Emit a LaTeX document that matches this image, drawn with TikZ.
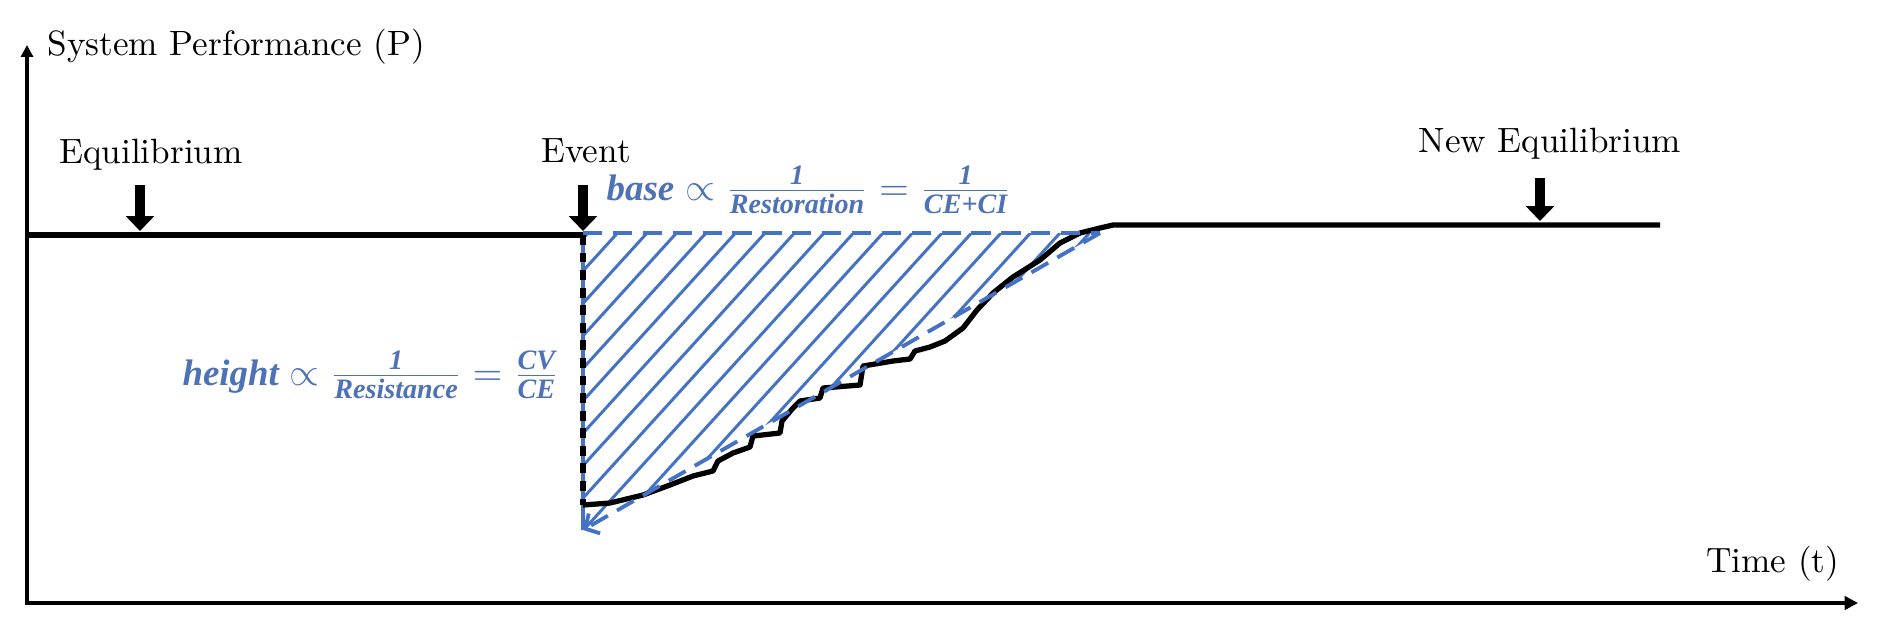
\documentclass[tikz,border=0pt]{standalone}
\usepackage{amsmath,amssymb}
\usepackage{fontspec}
\newfontfamily\formfont{Liberation Serif}
\usetikzlibrary{arrows.meta,positioning,calc}
\definecolor{resblue}{RGB}{68,114,196}
\definecolor{restext}{RGB}{78,114,182}
\newcommand{\fpart}[1]{\text{\fontsize{8}{10}\selectfont #1}}

\begin{document}
\begin{tikzpicture}[
    axis/.style={line width=1.1pt, black},
    perf/.style={line width=1.5pt, black, line join=round},
    blockarr/.style={line width=2.8pt, -{Triangle[width=7.8pt,length=4.2pt]}},
    hatch/.style={resblue, line width=0.85pt},
    bluedash/.style={resblue, line width=1.1pt, dash pattern=on 5.5pt off 3pt},
    lbl/.style={font=\normalsize, inner sep=0pt},
    formula/.style={font=\fontsize{10.5}{12}\selectfont\formfont\bfseries\itshape,
                    text=restext, inner sep=0pt}
]
    \useasboundingbox (0,0) rectangle (18.82,6.28);
    % axes
    \coordinate (O) at (0.27,0.25);
    \coordinate (ytop) at (0.27,5.83);
    \coordinate (xend) at (18.58,0.25);
    \draw[axis, {Triangle[width=3.4pt,length=3.4pt]}-{Triangle[width=3.8pt,length=3.8pt]}] (ytop) -- (O) -- (xend);
    \node[lbl, anchor=base west] (ylab) at (0.47,5.73) {System Performance (P)};
    \node[lbl, anchor=base east] (xlab) at (18.40,0.56) {Time (t)};

    % loss triangle
    \coordinate (tl) at (5.83,3.95);
    \coordinate (tr) at (11.00,3.95);
    \coordinate (tb) at (5.83,0.98);
    \begin{scope}
        \clip (tl) -- (tr) -- (tb) -- cycle;
        \foreach \x in {5.88,6.175,...,11.1}
            \draw[hatch] (\x,3.95) -- ++(-3,-3.3);
    \end{scope}
    \draw[resblue, line width=1.1pt] (tl) -- (tb);

    % performance curve
    \coordinate (eq0) at (0.27,3.93);
    \coordinate (ev) at (5.83,3.93);
    \coordinate (evbot) at (5.83,1.23);
    \coordinate (neweq0) at (11.13,4.03);
    \coordinate (neweq1) at (16.60,4.03);
    \draw[perf] (eq0) -- (ev);
    \draw[perf, dash pattern=on 2.8pt off 2.2pt] (ev) -- (evbot);
    \draw[perf] (evbot) -- (6.10,1.25) -- (6.43,1.33) -- (6.70,1.43) -- (6.93,1.52)
        -- (7.13,1.57) -- (7.18,1.67) -- (7.33,1.75) -- (7.50,1.81) -- (7.53,1.92)
        -- (7.80,1.95) -- (7.82,2.07) -- (7.93,2.20) -- (8.00,2.27) -- (8.20,2.30)
        -- (8.23,2.40) -- (8.60,2.43) -- (8.63,2.62) -- (8.93,2.67) -- (9.10,2.69)
        -- (9.15,2.77) -- (9.30,2.81) -- (9.45,2.87) -- (9.63,3.00) -- (9.77,3.18)
        -- (9.93,3.35) -- (10.13,3.51) -- (10.40,3.68) -- (10.60,3.85) -- (10.80,3.95)
        -- (11.00,4.00) -- (neweq0) -- (neweq1);
    \draw[bluedash] (tl) -- (tr);
    \draw[bluedash, -{Straight Barb[length=3pt,width=6.5pt]}] (tr) -- (tb);

    % labels and markers
    \node[lbl, anchor=base] (eqlab) at (1.51,4.65) {Equilibrium};
    \node[lbl, anchor=base] (evlab) at (5.86,4.66) {Event};
    \node[lbl, anchor=base] (neweqlab) at (15.50,4.76) {New Equilibrium};
    \coordinate (eqtop) at (1.40,4.43);
    \coordinate (eqtip) at (1.40,3.97);
    \coordinate (evtop) at (5.83,4.43);
    \coordinate (evtip) at (5.83,3.97);
    \coordinate (neweqtop) at (15.40,4.50);
    \coordinate (neweqtip) at (15.40,4.07);
    \draw[blockarr] (eqtop) -- (eqtip);
    \draw[blockarr] (evtop) -- (evtip);
    \draw[blockarr] (neweqtop) -- (neweqtip);

    \node[formula, anchor=west] (baselab) at (6.06,4.38)
        {$\text{base}\propto\frac{\fpart{1}}{\fpart{Restoration}}=\frac{\fpart{1}}{\fpart{CE+CI}}$};
    \node[formula, anchor=east] (heightlab) at (5.60,2.53)
        {$\text{height}\propto\frac{\fpart{1}}{\fpart{Resistance}}=\frac{\fpart{CV}}{\fpart{CE}}$};
\end{tikzpicture}
\end{document}
